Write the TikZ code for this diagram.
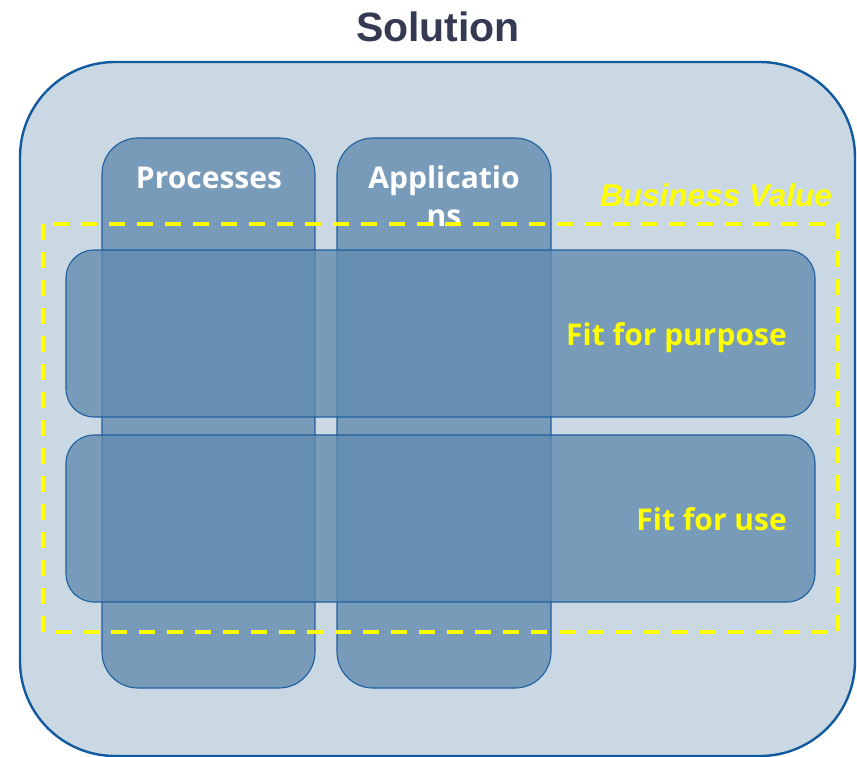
\documentclass[tikz,border=0pt]{standalone}
\usepackage{fontspec}
\setmainfont{Liberation Sans}
\newfontfamily\labelfont[Ligatures=NoCommon]{Open Sans}
\usetikzlibrary{positioning}
\definecolor{framefill}{RGB}{202,216,227}
\definecolor{frameline}{RGB}{18,90,160}
\definecolor{blockfill}{RGB}{97,139,175}
\definecolor{blockline}{RGB}{30,95,160}
\definecolor{titlecol}{RGB}{52,58,82}
\definecolor{valuecol}{RGB}{255,255,0}
\tikzset{
  frame/.style={fill=framefill, draw=frameline, line width=2.4pt, rounded corners=95pt},
  column/.style={fill=blockfill, fill opacity=0.78, draw=blockline, line width=1.1pt, rounded corners=36pt},
  band/.style={fill=blockfill, fill opacity=0.78, draw=blockline, line width=1.1pt, rounded corners=28pt},
  valuebox/.style={draw=valuecol, line width=4pt, dash pattern=on 16pt off 12pt},
  collabel/.style={font=\labelfont\bfseries\fontsize{30}{36}\selectfont, text=white, align=center, inner sep=0pt},
  bandlabel/.style={font=\labelfont\bfseries\fontsize{30}{34}\selectfont, text=valuecol, inner sep=0pt},
}
\begin{document}
\begin{tikzpicture}[x=1pt, y=-1pt]
  \useasboundingbox (0,0) rectangle (857,757);
  % title
  \node[font=\bfseries\fontsize{41}{48}\selectfont, text=titlecol, inner sep=0pt, anchor=base]
    (title) at (438,42) {Solution};
  % outer solution frame
  \draw[frame] (20,62) rectangle (855,756);
  % vertical columns
  \draw[column] (102,138) rectangle (315,688);
  \draw[column] (337,138) rectangle (551,688);
  \node[collabel, anchor=base] (proc) at (209,189) {Processes};
  \node[collabel, anchor=base] (appl) at (444,189) {Applicatio};
  \node[collabel, anchor=base] (appl2) at (444,226) {ns};
  % horizontal bands
  \draw[band] (66,250) rectangle (815,417);
  \draw[band] (66,435) rectangle (815,602);
  % business value boundary
  \draw[valuebox] (43,224) rectangle (838,632);
  \node[font=\bfseries\itshape\fontsize{31.5}{36}\selectfont, text=valuecol, inner sep=0pt, anchor=base east]
    (value) at (832,206) {Business Value};
  \node[bandlabel, anchor=base east] (purpose) at (787,345) {Fit for purpose};
  \node[bandlabel, anchor=base east] (use) at (787,530) {Fit for use};
\end{tikzpicture}
\end{document}
